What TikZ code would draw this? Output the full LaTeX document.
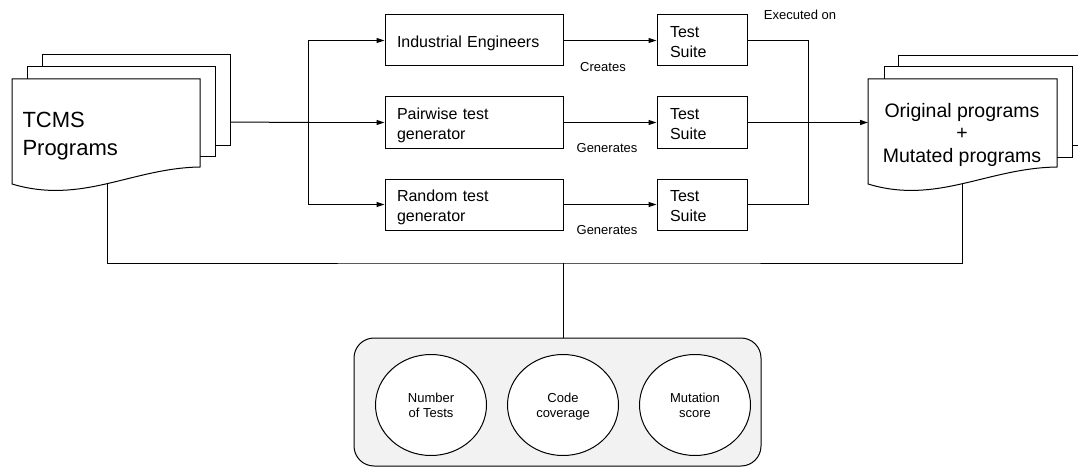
\documentclass[tikz,border=0pt]{standalone}
\usepackage{fontspec}
\setmainfont{Liberation Sans}
\usetikzlibrary{arrows.meta,shapes.geometric}
\definecolor{panel}{RGB}{242,242,242}
\begin{document}
\begin{tikzpicture}[x=1pt,y=-1pt,line width=1pt,
  box/.style={draw,fill=white,minimum width=178pt,minimum height=51pt,text width=154pt,inner xsep=12pt,inner ysep=2pt,align=left,font=\fontsize{16}{20}\selectfont,text height=14pt,text depth=20pt},
  suite/.style={box,minimum width=90pt,text width=64pt,inner xsep=13pt},
  lbl/.style={font=\fontsize{13}{15}\selectfont,inner sep=0pt},
  metric/.style={draw,fill=white,ellipse,minimum width=111pt,minimum height=101pt,inner sep=0pt,align=center,font=\fontsize{13}{15}\selectfont,text height=25pt,text depth=0pt},
  arr/.style={-{Triangle[length=8pt,width=5pt]}},
  page/.style={draw,fill=white}
]
\useasboundingbox (0,0) rectangle (1078,468);

% left document stack
\draw[page] (42,55) rectangle (230,145);
\draw[page] (27,67) rectangle (215,156);
\draw[page] (12,79) -- (200,79) -- (200,167) .. controls (132,168) and (82,205) .. (12,184) -- cycle;
\node[anchor=west,align=left,font=\fontsize{22}{28}\selectfont,inner sep=0pt] (tcms) at (22,136) {\strut TCMS\\Programs\strut};
\coordinate (tcmsout) at (230,122);
\coordinate (tcmsbot) at (107,184);

% right document stack
\draw[page] (898,56) rectangle (1087,145);
\draw[page] (884,67) rectangle (1072,157);
\draw[page] (868,79) -- (1057,79) -- (1057,167) .. controls (987,168) and (937,205) .. (868,184) -- cycle;
\node[align=center,font=\fontsize{19.5}{22.5}\selectfont,inner sep=0pt] (orig) at (962,135) {\strut Original programs\\+\\Mutated programs\strut};
\coordinate (origin) at (868,122);
\coordinate (origbot) at (962,184);

% generators
\node[box,text depth=0pt] (ie) at (474,40.5) {Industrial Engineers};
\node[box] (pw) at (474,122.5) {Pairwise test\\generator};
\node[box] (rg) at (474,204.5) {Random test\\generator};

% test suites
\node[suite] (ts1) at (702,40.5) {Test\\Suite};
\node[suite] (ts2) at (702,122.5) {Test\\Suite};
\node[suite] (ts3) at (702,204.5) {Test\\Suite};

% labels
\node[lbl] (l1) at (603,67) {Creates};
\node[lbl] (l2) at (607,148) {Generates};
\node[lbl] (l3) at (607,230) {Generates};
\node[lbl] (l4) at (800,15) {Executed on};

% split
\coordinate (split) at (308,122.5);
\draw (tcmsout) -- (split);
\draw[arr] (split) |- (ie.west);
\draw[arr] (split) -- (pw.west);
\draw[arr] (split) |- (rg.west);

\draw[arr] (ie) -- (ts1);
\draw[arr] (pw) -- (ts2);
\draw[arr] (rg) -- (ts3);

% merge
\coordinate (merge) at (808,122.5);
\draw (ts1.east) -| (merge);
\draw (ts3.east) -| (merge);
\draw (ts2.east) -- (merge);
\draw[arr,line width=1.4pt] (merge) -- (origin |- merge);

% metrics panel
\node[draw,fill=panel,rounded corners=20pt,minimum width=407pt,minimum height=128pt,inner sep=0pt] (metrics) at (557.5,402) {};
\node[metric] (m1) at (431,405) {Number\\of Tests};
\node[metric] (m2) at (563,405) {Code\\coverage};
\node[metric] (m3) at (695,405) {Mutation\\score};

% bottom bus
\coordinate (busmid) at (563,263);
\draw (tcmsbot) |- (busmid) -| (origbot);
\draw (busmid) -- (busmid |- metrics.north);
\end{tikzpicture}
\end{document}
